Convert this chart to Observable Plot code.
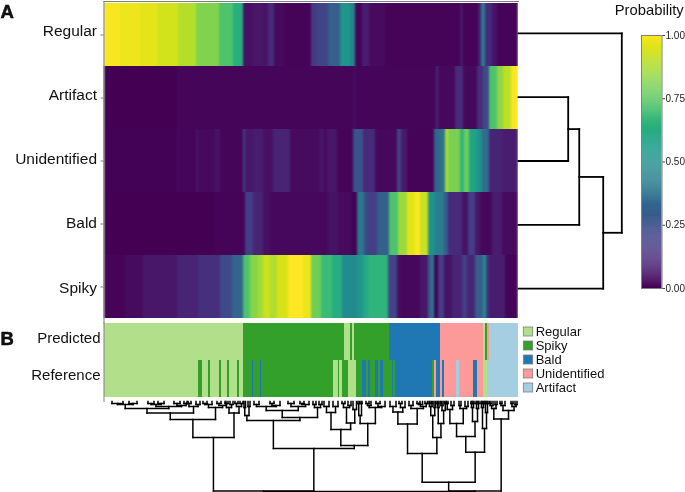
<!DOCTYPE html>
<html><head><meta charset="utf-8">
<script src="https://cdn.jsdelivr.net/npm/d3@7"></script>
<script src="https://cdn.jsdelivr.net/npm/@observablehq/plot@0.6"></script>
<style>
html,body{margin:0;padding:0;background:#fff;overflow:hidden}
#chart{position:relative;width:685px;height:492px;overflow:hidden;font-family:"Liberation Sans",Arial,sans-serif;color:#111;filter:blur(.3px)}
.lab{position:absolute;white-space:nowrap}
</style></head><body>
<svg width="0" height="0" style="position:absolute"><filter id="soften" x="0" y="0" width="100%" height="100%" color-interpolation-filters="sRGB"><feGaussianBlur stdDeviation="1 0.3"/></filter></svg>
<div id="chart"></div>
<script>
// ---- heatmap: run lengths along the sample order, with the probability of each run
const rows = ["Regular","Artifact","Unidentified","Bald","Spiky"];
const rowLabelShift = [-4,-3,-1.5,-1,1];
const regularRuns = [16.5,20,17,21,18,23,14,10,10,10,5,6,10,27,6,11,12,10,5,7,7,16,75,3,15,3,4,7,5,21];
const regularProbs = [.99,.975,.96,.93,.89,.81,.72,.63,.04,.06,.05,.12,.03,.01,.17,.2,.3,.52,.45,.01,.08,.03,.01,.06,.01,.08,.42,.12,.05,.01];
const artifactRuns = [73.5,176,3,79.7,2.6,16.7,8,14,6,6.3,7.7,6,7.7,7.3];
const artifactProbs = [.003,.012,.03,.012,.12,.02,.12,.02,.13,.22,.72,.83,.9,.99];
const unidentifiedRuns = [73.5,2,17,2,17,5,23,2,8,10,10,17,30,3,4,10,16,10,12,22,4,6,27,6,5,3,12,4,5,8,5,7,13,16];
const unidentifiedProbs = [.005,.03,.012,.05,.025,.05,.015,.2,.06,.08,.04,.1,.03,.07,.03,.06,.01,.25,.12,.02,.2,.07,.01,.33,.38,.88,.8,.65,.78,.58,.5,.35,.1,.08];
const baldRuns = [111.5,30,8,10,7,58,10,14,5,7,4,9,12,9,9,8,5,8,7,9,4,14,6,7,5,12,10,16];
const baldProbs = [.003,.01,.18,.1,.04,.02,.05,.03,.0,.4,.22,.18,.3,.72,.85,.96,1,.92,.5,.42,.28,.12,.05,.18,.06,.02,.08,.03];
const spikyRuns = [21.5,18,34,21,22,12,11,7,8,5,7,7,11,15,8,10,11,10,15,6,5,20,9,3,20,8,4,2,4,6,8,10,5,8,8,3,3,16,13];
const spikyProbs = [.01,.03,.06,.1,.14,.22,.32,.72,.82,.86,.92,.88,.94,1,.97,.78,.68,.62,.48,.52,.6,.65,.2,.04,.02,.06,.3,.45,0,.18,.05,.1,.18,.1,.3,.5,.15,.08,.01];

// ---- annotation strips
const classes = ["Regular","Spiky","Bald","Unidentified","Artifact"];
const classColors = ["#b2df8a","#33a02c","#1f78b4","#fb9a99","#a6cee3"];
const tracks = ["Predicted","Reference"];
const trackLabelShift = [-3.5,-4];
const predictedRuns = [139.5,101,6,2,2,35,51,43.3,1.7,2.3,2,28.7];
const predictedClass = ["Regular","Spiky","Regular","Spiky","Regular","Spiky","Bald","Unidentified","Regular","Spiky","Unidentified","Artifact"];
const referenceRuns = [94.5,4.3,5.7,2,8.7,2,6.3,2,8,2.3,3.7,9,1.3,6.7,1.3,72,4.4,1.6,2.7,5.7,8.3,5.7,4.3,2.3,1.7,5,3.3,1.7,2.7,9,1,2.3,36.7,2.6,1.4,4.3,1.7,2.3,12,2.7,14.3,4,6.3,4,30.7];
const referenceClass = "R S R S R S R S R S R S B S B S R S R S R S B S B S B S B S B S B S U B U B U A U B U R A".split(" ")
  .map(k => ({R:"Regular",S:"Spiky",B:"Bald",U:"Unidentified",A:"Artifact"})[k]);

// ---- dendrograms: [merge height, left, right]; a leaf is a row name or a sample position
const rowTree = [1,"Regular",[.82,[.588,[.481,"Artifact","Unidentified"],"Bald"],"Spiky"]];
const sampleTree = [90,
  [89.6,
    [36,
      [18,
        [11.5,
          [7,
            [3,[2,8,19],[2,25,33]],
            [5,[3,[2,44,50],[2,54,60]],[4,[2,70,76],[2,80,84]]]],
          [5,[2,83,87],[3,92,96]]],
        [6,[3,[2,99,103],108],[4,[2,113,117],122]]],
      [11.5,
        [6,[2,121,124],[3,126,129]],
        [5,[2,131,134],[2,136,139]]]],
    [47,
      [19,
        [14,[6,140,141.5],[5,144,146]],
        [16,
          [9,
            [5,[3,150,155],[4,[2,166,170],176]],
            [5,[2,184,190],[3,[2,196,200],205]]],
          [6,[3,209,212],[3,215,218]]]],
      [44,
        [28,
          [11,[5,220,225],[5,229,234]],
          [21.5,[6,[2,238,241],[4,244,247]],[8,249,252.5]]],
        [22,
          [14,[2,254,255.5],[2,257,258]],
          [6,[4,[2,262,265],267],[5,[2,272,276],281]]]]]],
  [89.6,
    [80.7,
      [52,
        [22.5,
          [10.5,[5,286,292],[6,[2,295,298],301]],
          [7,[4,305,309],[5,[3,[2,313,316],318.5],[2,321,323.5]]]],
        [36,
          [14,[5,[2,325,326],[2,327.5,328.5]],[6,330,331.5]],
          [22,[6,[2,333,334],335],[9,[4,[2,336.5,337.5],339],[2,340.5,342]]]]],
      [50.7,
        [35,
          [22,[8,[2,342.5,344],[4,347,350]],[7,[4,355,357],[5,361,364]]],
          [20,[6,[2,367,368],[2,369,370]],[7,[2,372,373],[2,374,375]]]],
        [27,[6,[2,377,378],[2,379,380]],[11,[2,381,382],[2,383,384]]]]],
    [17.5,
      [7,[4,[2,385.5,387],389],[3,391,393]],
      [9,[4,[2,396,398],401],[5,[2,407,409],[3,411,413]]]]]];

const colorbarTicks = [0,.25,.5,.75,1];
const sampleCount = 414.5;

// ---- helpers
function expand(runs, values, key){
  let at = 0;
  return runs.map((w,i)=>{const d={x1:at,x2:at+w,v:values[i],key}; at+=w; return d;});
}
function links(node, pos, out){
  if(!Array.isArray(node)) return {p:pos(node),h:0};
  const [h,a,b]=node, l=links(a,pos,out), r=links(b,pos,out);
  out.push({p1:l.p,h1:l.h,p2:l.p,h2:h},{p1:r.p,h1:r.h,p2:r.p,h2:h},{p1:l.p,h1:h,p2:r.p,h2:h});
  return {p:(l.p+r.p)/2,h};
}
const W=685,H=492, font='"Liberation Sans",Arial,sans-serif';
const chart=document.getElementById("chart");
function layer(box, opts){
  const svg=Plot.plot({width:W,height:H,marginLeft:box[0],marginRight:W-box[1],marginTop:box[2],marginBottom:H-box[3],
    style:{position:"absolute",left:0,top:0,background:"transparent",fontFamily:font,overflow:"visible",maxWidth:"none"},...opts});
  chart.appendChild(svg);
  return svg;
}
function label(text,left,top,size,weight,stroke){
  const d=document.createElement("div");d.className="lab";d.textContent=text;
  d.style.cssText+=`left:${left}px;top:${top}px;font-size:${size}px;line-height:1;font-weight:${weight||"normal"};-webkit-text-stroke:${stroke||0}px #000`;
  chart.appendChild(d);
}
const gray="#7f7f7f";

// heatmap
const heatData=[[regularRuns,regularProbs],[artifactRuns,artifactProbs],[unidentifiedRuns,unidentifiedProbs],[baldRuns,baldProbs],[spikyRuns,spikyProbs]]
  .flatMap(([r,v],i)=>expand(r,v,rows[i]));
const heat=layer([103.5,518,1,320],{
  x:{domain:[0,sampleCount],axis:null},
  y:{domain:rows,padding:0,axis:null},
  color:{type:"linear",scheme:"viridis",domain:[0,1]},
  marks:[
    Plot.barX(heatData,{x1:"x1",x2:"x2",y:"key",fill:"v",shapeRendering:"crispEdges"}),
    Plot.axisY({anchor:"left",label:null,tickSize:3,tickFormat:()=>"",stroke:gray}),
    ...rows.map((r,i)=>Plot.axisY([r],{anchor:"left",label:null,tickSize:0,tickPadding:7,dy:rowLabelShift[i],fontSize:15.5,fill:"#111"})),
    Plot.frame({anchor:"top",stroke:gray}),
    Plot.frame({anchor:"left",stroke:gray,insetBottom:-3})
  ]});
heat.querySelector('g[aria-label="bar"]').setAttribute("filter","url(#soften)");

// annotation strips
const annData=[...expand(predictedRuns,predictedClass,"Predicted"),...expand(referenceRuns,referenceClass,"Reference")];
layer([103.5,518,322.5,398],{
  x:{domain:[0,sampleCount],axis:null},
  y:{domain:tracks,padding:0,axis:null},
  color:{domain:classes,range:classColors},
  marks:[
    Plot.barX(annData,{x1:"x1",x2:"x2",y:"key",fill:"v",shapeRendering:"crispEdges"}),
    ...tracks.map((t,i)=>Plot.axisY([t],{anchor:"left",label:null,tickSize:0,tickPadding:3.5,dy:trackLabelShift[i],fontSize:15,fill:"#111"})),
    Plot.frame({anchor:"left",stroke:gray,insetBottom:-3})
  ]});

// class legend
layer([523.3,532.7,321.4,398.7],{
  x:{domain:[0,1],axis:null},
  y:{domain:classes,padding:.33,axis:null},
  color:{domain:classes,range:classColors},
  marks:[
    Plot.barX(classes,{x1:()=>0,x2:()=>1,y:d=>d,fill:d=>d,stroke:gray,strokeWidth:.8}),
    Plot.text(classes,{x:()=>1,y:d=>d,text:d=>d,textAnchor:"start",dx:2.5,fontSize:13,fill:"#111"})
  ]});

// row dendrogram
const rowLinks=[];links(rowTree,r=>rows.indexOf(r)+.5,rowLinks);
layer([518,621.3,1,320],{
  x:{domain:[0,1],axis:null},
  y:{domain:[0,rows.length],reverse:true,axis:null},
  marks:[Plot.link(rowLinks,{x1:"h1",y1:"p1",x2:"h2",y2:"p2",stroke:"#000",strokeWidth:1.8,strokeLinecap:"square"})]
});

// sample dendrogram
const sampleLinks=[];links(sampleTree,s=>s,sampleLinks);
layer([103.5,518,401,491],{
  x:{domain:[0,sampleCount],axis:null},
  y:{domain:[0,90],reverse:true,axis:null},
  marks:[Plot.link(sampleLinks,{x1:"p1",y1:"h1",x2:"p2",y2:"h2",stroke:"#000",strokeWidth:1.5,strokeLinecap:"square"})]
});

// colour bar
const stops=d3.range(0,1,.004);
layer([641,661.5,35,288],{
  x:{domain:[0,1],axis:null},
  y:{domain:[0,1],axis:null},
  color:{type:"linear",scheme:"viridis",domain:[0,1]},
  marks:[
    Plot.rect(stops,{x1:()=>0,x2:()=>1,y1:d=>d,y2:d=>d+.0045,fill:d=>d}),
    Plot.frame({stroke:gray}),
    Plot.axisY({anchor:"right",ticks:colorbarTicks,tickFormat:d3.format(".2f"),label:null,tickSize:2.5,tickPadding:1,fontSize:10,stroke:"#444",fill:"#222"})
  ]});

label("Probability",614.7,3,14.8);
label("A",0.5,3,18.5,"bold",.5);
label("B",0.5,329.5,18.5,"bold",.5);
</script></body></html>
